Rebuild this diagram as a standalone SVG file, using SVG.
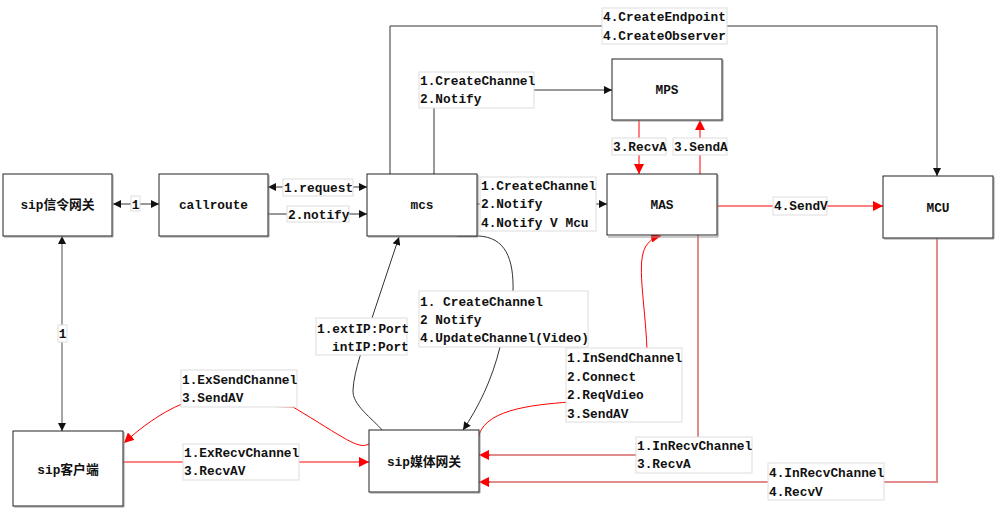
<svg xmlns="http://www.w3.org/2000/svg" width="996" height="510" viewBox="0 0 996 510">
<defs>
<style>
text{font-family:"Liberation Mono","Noto Sans CJK SC",monospace;font-weight:bold;font-size:12.8px;fill:#111}
.nt{text-anchor:middle}
.box{fill:#fff;stroke:#222;stroke-width:1}
.sh{fill:none;stroke:#999;stroke-width:1}
.lb{fill:#fff;stroke:#ddd;stroke-width:1}
.k{fill:none;stroke:#333;stroke-width:1}
.kg{fill:none;stroke:#888;stroke-width:1.5}
.r{fill:none;stroke:#f00;stroke-width:1}
.rp{fill:none;stroke:#e08c8c;stroke-width:2}
</style>
<marker id="ak" viewBox="0 0 8 8" refX="8" refY="4" markerWidth="8" markerHeight="8" markerUnits="userSpaceOnUse" orient="auto-start-reverse"><path d="M0,0 L8,4 L0,8 z" fill="#111"/></marker>
<marker id="ar" viewBox="0 0 10 10" refX="10" refY="5" markerWidth="10" markerHeight="10" markerUnits="userSpaceOnUse" orient="auto-start-reverse"><path d="M0,0 L10,5 L0,10 z" fill="#f00"/></marker>
</defs>
<rect width="996" height="510" fill="#fff"/>

<g id="connectors">
<path class="k" d="M113,204 H159" marker-start="url(#ak)" marker-end="url(#ak)"/>
<path class="k" d="M367,187 H268" marker-start="url(#ak)" marker-end="url(#ak)"/>
<path class="k" d="M268,214 H367" marker-end="url(#ak)"/>
<path class="k" d="M434,174 V90 H612" marker-end="url(#ak)"/>
<path class="k" d="M390,174 V26 H937 V176" marker-end="url(#ak)"/>
<path class="k" d="M477,204 H607" marker-end="url(#ak)"/>
<path class="r" d="M639,120 V174" marker-end="url(#ar)"/>
<path class="r" d="M700,174 V120" marker-end="url(#ar)"/>
<path class="r" d="M717,206 H883" marker-end="url(#ar)"/>
<path class="rp" d="M937,238 V482 H489"/>
<path class="r" d="M490,482 H479" marker-end="url(#ar)"/>
<path class="rp" d="M698,235 V455 H489"/>
<path class="r" d="M490,455 H479" marker-end="url(#ar)"/>
<path class="r" d="M478,440 C481,410 530,405 570,402 L647,350 C645,300 636,262 646,246 C650,240 655,237 661,236" marker-end="url(#ar)"/>
<path class="k" d="M457,236 H478 C505,237 514,258 513,292 L500,347 C492,380 478,408 463,430" marker-end="url(#ak)"/>
<path class="k" d="M383,431 C372,418 352,405 353,390 C354,370 364,345 372,318 L399,237" marker-end="url(#ak)"/>
<path class="r" d="M369,444 C358,450 345,438 293,407 L182,404 C162,412 140,428 124,443" marker-end="url(#ar)"/>
<path class="r" d="M123,462 H369" marker-end="url(#ar)"/>
<path class="kg" d="M62,236 V431" marker-start="url(#ak)" marker-end="url(#ak)"/>
</g>

<g id="labels">
<rect class="lb" x="131" y="196" width="9" height="15"/><text x="135.5" y="208.5" class="nt">1</text>
<rect class="lb" x="283" y="179" width="70" height="17"/><text x="284" y="192">1.request</text>
<rect class="lb" x="287" y="206" width="62" height="16"/><text x="288" y="218.5">2.notify</text>
<rect class="lb" x="419" y="72" width="115" height="36"/><text x="420" y="84.5">1.CreateChannel</text><text x="420" y="102.5">2.Notify</text>
<rect class="lb" x="602" y="8" width="125" height="36"/><text x="603" y="20.5">4.CreateEndpoint</text><text x="603" y="39.5">4.CreateObserver</text>
<rect class="lb" x="612" y="138" width="54" height="17"/><text x="613" y="150.5">3.RecvA</text>
<rect class="lb" x="673" y="138" width="54" height="17"/><text x="674" y="150.5">3.SendA</text>
<rect class="lb" x="480" y="177" width="116" height="54"/><text x="481" y="189.5">1.CreateChannel</text><text x="481" y="207.5">2.Notify</text><text x="481" y="226.5">4.Notify V Mcu</text>
<rect class="lb" x="773" y="197" width="54" height="18"/><text x="774" y="209.5">4.SendV</text>
<rect class="lb" x="316" y="318" width="91" height="37"/><text x="317" y="332.5">1.extIP:Port</text><text x="332" y="350.5">intIP:Port</text>
<rect class="lb" x="419" y="291" width="169" height="56"/><text x="420" y="305.5">1. CreateChannel</text><text x="420" y="323.5">2 Notify</text><text x="420" y="341.5">4.UpdateChannel(Video)</text>
<rect class="lb" x="566" y="348" width="116" height="74"/><text x="567" y="361.5">1.InSendChannel</text><text x="567" y="380.5">2.Connect</text><text x="567" y="398.5">2.ReqVdieo</text><text x="567" y="417.5">3.SendAV</text>
<rect class="lb" x="636" y="437" width="116" height="36"/><text x="637" y="449.5">1.InRecvChannel</text><text x="637" y="467.5">3.RecvA</text>
<rect class="lb" x="768" y="463" width="116" height="37"/><text x="769" y="476.5">4.InRecvChannel</text><text x="769" y="495.5">4.RecvV</text>
<rect class="lb" x="181" y="370" width="116" height="37"/><text x="182" y="383.5">1.ExSendChannel</text><text x="182" y="401.5">3.SendAV</text>
<rect class="lb" x="183" y="444" width="116" height="36"/><text x="184" y="456.5">1.ExRecvChannel</text><text x="184" y="474.5">3.RecvAV</text>
<rect class="lb" x="58" y="325" width="9" height="17"/><text x="62.5" y="337.5" class="nt">1</text>
</g>

<g id="sipsig"><path class="sh" d="M4,237 H113 V175"/><rect class="box" x="3" y="174" width="109" height="62"/><text x="57.5" y="208.5" class="nt">sip信令网关</text></g>
<g id="callroute"><path class="sh" d="M160,237 H269 V175"/><rect class="box" x="159" y="174" width="109" height="62"/><text x="213.5" y="208.5" class="nt">callroute</text></g>
<g id="mcs"><path class="sh" d="M368,237 H478 V175"/><rect class="box" x="367" y="174" width="110" height="62"/><text x="422" y="208.5" class="nt">mcs</text></g>
<g id="mas"><path class="sh" d="M608,237 H718 V175"/><rect class="box" x="607" y="174" width="110" height="61"/><text x="662" y="208.5" class="nt">MAS</text></g>
<g id="mcu"><path class="sh" d="M884,239 H994 V177"/><rect class="box" x="883" y="176" width="110" height="62"/><text x="938" y="211.5" class="nt">MCU</text></g>
<g id="mps"><path class="sh" d="M613,121 H723 V60"/><rect class="box" x="612" y="59" width="110" height="61"/><text x="667" y="93.5" class="nt">MPS</text></g>
<g id="sipclient"><path class="sh" d="M14,507 H124 V432"/><rect class="box" x="13" y="431" width="110" height="75"/><text x="68" y="473.5" class="nt">sip客户端</text></g>
<g id="sipmedia"><path class="sh" d="M370,493 H480 V431"/><rect class="box" x="369" y="430" width="110" height="62"/><text x="424" y="465.5" class="nt">sip媒体网关</text></g>
</svg>
